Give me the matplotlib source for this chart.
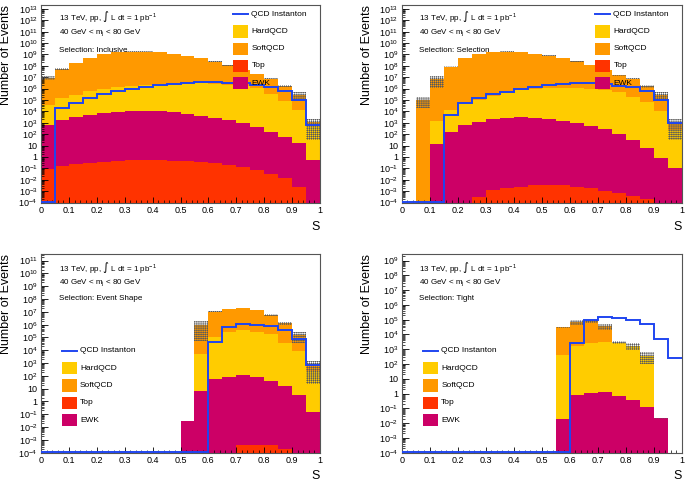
import numpy as np
import matplotlib
matplotlib.use("Agg")
import matplotlib.pyplot as plt
from matplotlib.patches import Rectangle
from matplotlib.lines import Line2D
from matplotlib.ticker import LogLocator, FuncFormatter, MultipleLocator, NullFormatter

plt.rcParams['font.family'] = ['Liberation Sans', 'DejaVu Sans']
plt.rcParams['mathtext.default'] = 'regular'
plt.rcParams['hatch.linewidth'] = 0.4
plt.rcParams['hatch.color'] = '#5a5a5a'

edges = np.linspace(0, 1, 21)

# ---- Selection: Inclusive
incl_top = [0.08, 0.16, 0.22, 0.30, 0.37, 0.44, 0.49, 0.50, 0.49, 0.46,
            0.40, 0.35, 0.30, 0.20, 0.13, 0.07, 0.032, 0.013, 0.0025, 0]
incl_ewk = [660, 1700, 3000, 5000, 7600, 9500, 10500, 10700, 10000, 8500,
            6300, 4000, 2500, 1600, 900, 420, 160, 56, 16, 0.56]
incl_hard = [3.9e4, 1.4e5, 2.9e5, 5.6e5, 8.8e5, 1.25e6, 1.65e6, 2.08e6, 2.5e6, 2.87e6,
             3.15e6, 3.15e6, 2.8e6, 2.24e6, 1.66e6, 1.05e6, 3.55e5, 7.9e4, 1.4e4, 630]
incl_soft = [9.3e6, 5.2e7, 1.74e8, 4.9e8, 1.05e9, 1.55e9, 1.78e9, 1.78e9, 1.58e9, 1.12e9,
             7.4e8, 4.57e8, 2.34e8, 1.05e8, 4.2e7, 1.8e7, 6.7e6, 1.7e6, 2.7e5, 490]
incl_inst = [0, 2.0e4, 6.0e4, 1.4e5, 3.5e5, 6.3e5, 1.0e6, 1.5e6, 2.0e6, 2.5e6,
             3.0e6, 3.5e6, 3.5e6, 3.3e6, 3.0e6, 2.2e6, 1.5e6, 5.6e5, 1.0e5, 630]
incl_err = [0.35, 0.2, 0.06, 0.04, 0.03, 0.03, 0.03, 0.03, 0.03, 0.03,
            0.04, 0.04, 0.05, 0.05, 0.06, 0.08, 0.1, 0.2, 0.7, 0.97]

# ---- Selection: Selection
sel_top = [0, 0, 0, 0, 0, 2.8e-4, 1.2e-3, 1.9e-3, 2.5e-3, 3.2e-3,
           3.5e-3, 3.3e-3, 2.5e-3, 1.8e-3, 1.1e-3, 6.3e-4, 3.5e-4, 1.9e-4, 0, 0]
sel_ewk = [0, 0, 12.6, 160, 630, 1260, 2240, 2800, 3160, 2600,
           2100, 1400, 950, 500, 260, 100, 28, 5.6, 0.8, 0.11]
sel_hard = [0, 0, 1570, 1.33e4, 5.2e4, 9.9e4, 2.07e5, 3.95e5, 7.05e5, 9.3e5,
            1.12e6, 1.17e6, 1.12e6, 9.5e5, 7.6e5, 4.8e5, 2.0e5, 6.3e4, 1.12e4, 250]
sel_soft = [0, 1.0e5, 7.1e6, 8.7e7, 4.7e8, 1.05e9, 1.58e9, 1.78e9, 1.58e9, 1.12e9,
            7.9e8, 4.7e8, 2.4e8, 1.12e8, 4.3e7, 1.5e7, 7.4e6, 1.6e6, 2.7e5, 750]
sel_inst = [0, 0, 0, 5000, 5.9e4, 1.4e5, 3.3e5, 5.2e5, 1.0e6, 1.5e6,
            2.1e6, 2.5e6, 3.0e6, 3.0e6, 2.8e6, 1.8e6, 1.3e6, 6.3e5, 1.1e5, 900]
sel_err = [0, 0.8, 0.85, 0.1, 0.04, 0.03, 0.03, 0.03, 0.03, 0.03,
           0.04, 0.04, 0.05, 0.05, 0.06, 0.1, 0.15, 0.3, 0.7, 0.97]

# ---- Selection: Event Shape
shape_top = [0, 0, 0, 0, 0, 0, 0, 0, 0, 0,
             0, 0, 0, 0, 4e-4, 4e-4, 4e-4, 1.9e-4, 0, 0]
shape_ewk = [0, 0, 0, 0, 0, 0, 0, 0, 0, 0,
             0.03, 6.3, 54, 89, 107, 89, 40, 15, 3.2, 0.16]
shape_hard = [0, 0, 0, 0, 0, 0, 0, 0, 0, 0,
              0, 5200, 1.12e5, 2.6e5, 3.8e5, 2.8e5, 1.9e5, 3.5e4, 8900, 250]
shape_soft = [0, 0, 0, 0, 0, 0, 0, 0, 0, 0,
              0, 1.0e6, 1.04e7, 1.6e7, 1.96e7, 1.38e7, 5.56e6, 1.28e6, 1.5e5, 550]
shape_inst = [0, 0, 0, 0, 0, 0, 0, 0, 0, 0,
              0, 0, 4.7e4, 6.3e5, 1.17e6, 9.3e5, 7.9e5, 3.8e5, 7.1e4, 760]
shape_err = [0, 0, 0, 0, 0, 0, 0, 0, 0, 0,
             0.05, 0.95, 0.1, 0.05, 0.05, 0.05, 0.1, 0.3, 0.75, 0.97]

# ---- Selection: Tight
tight_top = [0, 0, 0, 0, 0, 0, 0, 0, 0, 0,
             0, 0, 0, 0, 0, 0, 0, 0, 0, 0]
tight_ewk = [0, 0, 0, 0, 0, 0, 0, 0, 0, 0,
             0, 0.02, 0.8, 1.15, 1.35, 0.7, 0.35, 0.13, 0.021, 0]
tight_hard = [0, 0, 0, 0, 0, 0, 0, 0, 0, 0,
              0, 417, 1580, 2690, 3310, 2820, 1780, 355, 0, 0]
tight_soft = [0, 0, 0, 0, 0, 0, 0, 0, 0, 0,
              0, 3.05e4, 6.9e4, 7.3e4, 3.2e4, 0, 0, 0, 0, 0]
tight_inst = [0, 0, 0, 0, 0, 0, 0, 0, 0, 0,
              0, 0, 2500, 1.0e5, 1.5e5, 1.26e5, 9.3e4, 5.1e4, 4700, 245]
tight_err = [0, 0, 0, 0, 0, 0, 0, 0, 0, 0,
             0, 0.05, 0.35, 0.25, 0.45, 0.25, 0.5, 0.72, 0.05, 0]

c_top = '#ff3300'
c_ewk = '#cc0066'
c_hard = '#ffcc00'
c_soft = '#ff9900'
c_inst = '#1f45f0'

YMIN = 1e-4


def ytick_fmt(v, pos):
    e = int(round(np.log10(v)))
    if e == 0:
        return '1'
    if e == 1:
        return '10'
    return r'10$^{%d}$' % e


def draw_panel(ax, comps, inst, err, ymax, selname, leg_x, leg_y):
    # stacked histogram, first component at the bottom
    bottom = np.full(20, 1e-6)
    for vals, col in zip(comps, [c_top, c_ewk, c_hard, c_soft]):
        top = bottom + np.asarray(vals, float)
        ax.stairs(top, edges, baseline=bottom, fill=True, color=col, lw=0, zorder=1)
        bottom = top
    total = bottom
    err = np.asarray(err, float)
    up = np.where(err > 0, total * (1 + err), 1e-6)
    lo = np.where(err > 0, total * (1 - err), 1e-6)
    ax.stairs(up, edges, baseline=lo, fill=True, facecolor='none',
              edgecolor='#5a5a5a', hatch='++++++++', lw=0, zorder=2)

    inst = np.asarray(inst, float)
    ax.stairs(np.where(inst > 0, inst, YMIN * 1.08), edges, baseline=None,
              color=c_inst, lw=1.4, zorder=3)

    ax.set_yscale('log')
    ax.set_xlim(0, 1)
    ax.set_ylim(YMIN, ymax)
    ax.yaxis.set_major_locator(LogLocator(base=10, subs=(1.0,), numticks=40))
    ax.yaxis.set_minor_locator(LogLocator(base=10, subs=np.arange(2, 10), numticks=40))
    ax.yaxis.set_major_formatter(FuncFormatter(ytick_fmt))
    ax.yaxis.set_minor_formatter(NullFormatter())
    ax.xaxis.set_major_locator(MultipleLocator(0.1))
    ax.xaxis.set_minor_locator(MultipleLocator(0.02))
    ax.xaxis.set_major_formatter(FuncFormatter(lambda v, p: '%g' % round(v, 2)))
    ax.tick_params(axis='both', which='both', direction='in', labelsize=6.5, pad=2.5)
    ax.tick_params(axis='y', which='major', length=5, width=0.6)
    ax.tick_params(axis='y', which='minor', length=2.5, width=0.5)
    ax.tick_params(axis='x', which='major', length=4.5, width=0.6)
    ax.tick_params(axis='x', which='minor', length=2.3, width=0.5)
    for sp in ax.spines.values():
        sp.set_color('#555555')
        sp.set_linewidth(0.8)

    ax.set_ylabel('Number of Events', fontsize=9, loc='top')
    ax.set_xlabel('S', fontsize=9, loc='right')

    tx = 0.063
    ty = [0.944, 0.858, 0.772] if ymax > 1e12 else [0.93, 0.854, 0.774]
    ax.text(tx, ty[0], r'13 TeV, pp, $\int$ L dt = 1 pb$^{-1}$', transform=ax.transAxes,
            fontsize=5.8, va='center')
    ax.text(tx, ty[1], r'40 GeV < m$_{j}$ < 80 GeV', transform=ax.transAxes,
            fontsize=5.8, va='center')
    ax.text(tx, ty[2], 'Selection: ' + selname, transform=ax.transAxes,
            fontsize=5.8, va='center')

    # legend
    bw, bh, dy = 0.054, 0.062, 0.087
    ax.add_line(Line2D([leg_x, leg_x + bw], [leg_y, leg_y], transform=ax.transAxes,
                       color=c_inst, lw=1.4, zorder=5))
    ax.text(leg_x + 0.066, leg_y, 'QCD Instanton', transform=ax.transAxes,
            fontsize=6, va='center', zorder=5)
    for i, (lab, col) in enumerate([('HardQCD', c_hard), ('SoftQCD', c_soft),
                                    ('Top', c_top), ('EWK', c_ewk)]):
        y = leg_y - (i + 1) * dy
        ax.add_patch(Rectangle((leg_x, y - bh / 2), bw, bh, transform=ax.transAxes,
                               facecolor=col, edgecolor='none', zorder=5))
        ax.text(leg_x + 0.066, y, lab, transform=ax.transAxes, fontsize=6,
                va='center', zorder=5)


fig = plt.figure(figsize=(6.85, 4.84), dpi=100)
ax1 = fig.add_axes([0.0599, 0.5816, 0.4073, 0.4081])
ax2 = fig.add_axes([0.5864, 0.5816, 0.4088, 0.4081])
ax3 = fig.add_axes([0.0599, 0.0647, 0.4073, 0.4105])
ax4 = fig.add_axes([0.5864, 0.0647, 0.4088, 0.4105])

draw_panel(ax1, [incl_top, incl_ewk, incl_hard, incl_soft], incl_inst, incl_err,
           2.2e13, 'Inclusive', 0.688, 0.953)
draw_panel(ax2, [sel_top, sel_ewk, sel_hard, sel_soft], sel_inst, sel_err,
           2.2e13, 'Selection', 0.690, 0.953)
draw_panel(ax3, [shape_top, shape_ewk, shape_hard, shape_soft], shape_inst, shape_err,
           3.3e11, 'Event Shape', 0.074, 0.512)
draw_panel(ax4, [tight_top, tight_ewk, tight_hard, tight_soft], tight_inst, tight_err,
           2.8e9, 'Tight', 0.075, 0.512)

for ax in (ax1, ax3):
    ax.yaxis.set_label_coords(-0.105, 1.0)
for ax in (ax2, ax4):
    ax.yaxis.set_label_coords(-0.101, 1.0)
for ax in (ax1, ax2):
    ax.xaxis.set_label_coords(1.0, -0.095)
for ax in (ax3, ax4):
    ax.xaxis.set_label_coords(1.0, -0.085)

fig.savefig('out.png', dpi=100)
